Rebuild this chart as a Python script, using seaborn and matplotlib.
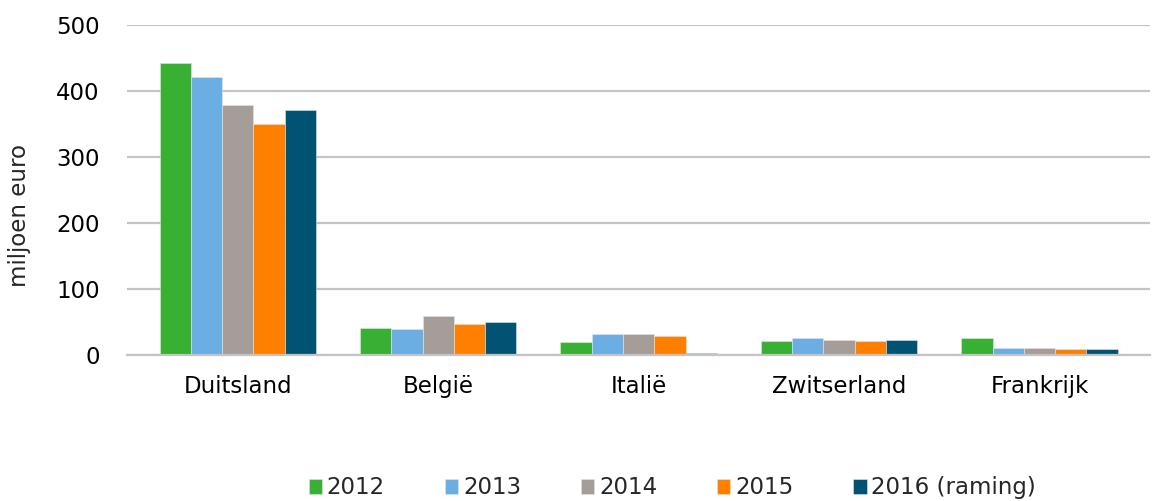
import pandas as pd
import matplotlib
matplotlib.use("Agg")
import matplotlib.pyplot as plt
import seaborn as sns

# Data (miljoen euro)
countries = ["Duitsland", "België", "Italië", "Zwitserland", "Frankrijk"]
years = ["2012", "2013", "2014", "2015", "2016 (raming)"]
v2012 = [443, 41, 20, 21, 26]
v2013 = [422, 39, 32, 26, 10.5]
v2014 = [379, 60, 32, 23, 11]
v2015 = [350, 48, 28.5, 21.5, 9]
v2016 = [371, 51, 4, 22.5, 9]
colors = ["#37B034", "#6AAEE3", "#A59D97", "#FF7F00", "#025373"]

# Build long-form table
rows = []
for year, values in zip(years, [v2012, v2013, v2014, v2015, v2016]):
    for country, value in zip(countries, values):
        rows.append({"Land": country, "Jaar": year, "Waarde": value})
data = pd.DataFrame(rows)

sns.set_style("white")
plt.rcParams["font.family"] = ["DejaVu Sans"]
fs = 16.5

fig = plt.figure(figsize=(11.59, 5.01), dpi=100)
ax = fig.add_axes([0.110, 0.291, 0.882, 0.659])

sns.barplot(
    data=data,
    x="Land",
    y="Waarde",
    hue="Jaar",
    order=countries,
    hue_order=years,
    palette=colors,
    width=0.78,
    saturation=1,
    edgecolor="#E6E6E6",
    linewidth=0.4,
    ax=ax)

ax.set_ylim(0, 500)
ax.set_yticks([0, 100, 200, 300, 400, 500])
ax.yaxis.grid(True, color="#C4C4C4", linewidth=1.6)
ax.set_axisbelow(True)
for side in ["top", "right", "left"]:
    ax.spines[side].set_visible(False)
ax.spines["bottom"].set_color("#C4C4C4")
ax.spines["bottom"].set_linewidth(1.6)
ax.tick_params(axis="both", length=0, labelsize=fs, colors="black")
ax.tick_params(axis="x", pad=14)
ax.tick_params(axis="y", pad=20)
ax.set_xlabel("")
ax.set_ylabel("miljoen euro", fontsize=fs)
ax.yaxis.set_label_coords(-0.094, 0.424)
ax.set_xlim(-0.55, 4.55)

handles, labels = ax.get_legend_handles_labels()
ax.legend_.remove()
fig.legend(
    handles, labels,
    loc="center",
    bbox_to_anchor=(0.58, 0.026),
    ncol=5,
    frameon=False,
    fontsize=fs,
    handlelength=0.6,
    handleheight=0.6,
    handletextpad=0.2,
    columnspacing=2.6)

plt.savefig("out.png", dpi=100)
